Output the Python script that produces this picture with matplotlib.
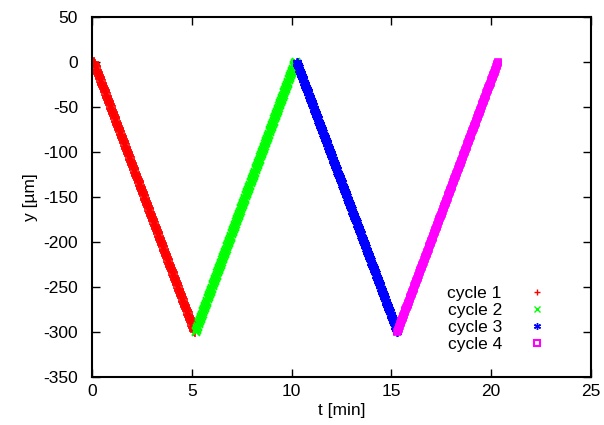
import numpy as np
import matplotlib
matplotlib.use("Agg")
import matplotlib.pyplot as plt

plt.rcParams['font.family'] = ['Liberation Sans', 'DejaVu Sans']
plt.rcParams['axes.unicode_minus'] = False

# Cycle endpoints: (t_start, t_end) in min, (y_start, y_end) in um
cycle_labels = ["cycle 1", "cycle 2", "cycle 3", "cycle 4"]
cycle_t_start = [0.1, 5.2, 10.25, 15.3]
cycle_t_end = [5.15, 10.2, 15.3, 20.35]
cycle_y_start = [0, -300, 0, -300]
cycle_y_end = [-300, 0, -300, 0]
samples_per_cycle = 250

colors = ["#ff0000", "#00ff00", "#0000ff", "#ff00ff"]
markers = ["+", "x", (6, 2, 0), "s"]
plot_sizes = [6.5, 6.0, 6.5, 4.5]

fig = plt.figure(figsize=(6.04, 4.25), dpi=100)
ax = fig.add_axes([0.1523, 0.1129, 0.8262, 0.8471])

handles = []
for i in range(4):
    t = np.linspace(cycle_t_start[i], cycle_t_end[i], samples_per_cycle)
    y = np.linspace(cycle_y_start[i], cycle_y_end[i], samples_per_cycle)
    kw = dict(linestyle='none', marker=markers[i], markersize=plot_sizes[i], color=colors[i],
              markeredgewidth=1.2)
    if markers[i] == "s":
        kw.update(markerfacecolor='none', markeredgecolor=colors[i])
    ax.plot(t, y, **kw)
    lkw = dict(linestyle='none', marker=markers[i], markersize=5, color=colors[i],
               markeredgewidth=1.0, label=cycle_labels[i])
    if markers[i] == "s":
        lkw.update(markerfacecolor='none', markeredgecolor=colors[i], markeredgewidth=1.5,
                   markersize=4.5)
    h, = ax.plot([], [], **lkw)
    handles.append(h)

ax.set_xlim(0, 25)
ax.set_ylim(-350, 50)
ax.set_xticks([0, 5, 10, 15, 20, 25])
ax.set_yticks(np.arange(-350, 51, 50))
ax.tick_params(direction='in', top=True, right=True, length=6, width=1, labelsize=12.5)
ax.tick_params(axis='y', pad=10)
ax.tick_params(axis='x', pad=5)
for s in ax.spines.values():
    s.set_linewidth(1.5)
ax.set_xlabel("t [min]", fontsize=12.5, labelpad=3)
ax.set_ylabel("y [µm]", fontsize=12.5, labelpad=4)

leg = ax.legend(handles=handles, loc='lower right', bbox_to_anchor=(0.95, 0.027), frameon=False,
                fontsize=12.5, markerfirst=False, handlelength=1.5, handletextpad=1.3,
                labelspacing=0.1)

fig.savefig("out.png", dpi=100)
